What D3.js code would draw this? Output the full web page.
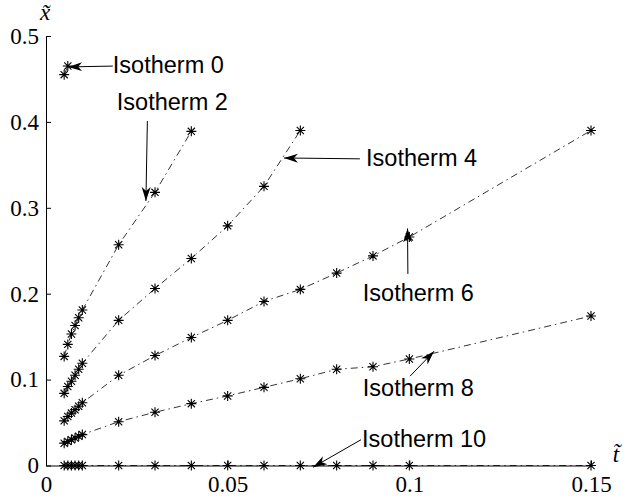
<!DOCTYPE html>
<html>
<head>
<meta charset="utf-8">
<script src="https://cdn.jsdelivr.net/npm/d3@7"></script>
<style>
  body { margin: 0; background: #fff; }
  svg { display: block; }
</style>
</head>
<body>
<div id="chart"></div>
<script>
// sample times shared by every isotherm
const times = [0.005, 0.006, 0.007, 0.008, 0.009, 0.01, 0.02, 0.03, 0.04, 0.05, 0.06, 0.07, 0.08, 0.09, 0.1, 0.15];

const iso0 = [0.455, 0.465];
const iso2 = [0.127, 0.141, 0.153, 0.163, 0.172, 0.181, 0.257, 0.318, 0.389];
const iso4 = [0.084, 0.092, 0.098, 0.105, 0.112, 0.119, 0.169, 0.206, 0.241, 0.279, 0.325, 0.390];
const iso6 = [0.052, 0.057, 0.061, 0.065, 0.069, 0.073, 0.105, 0.128, 0.149, 0.169, 0.191, 0.205, 0.224, 0.244, 0.266, 0.390];
const iso8 = [0.026, 0.028, 0.030, 0.032, 0.034, 0.036, 0.051, 0.062, 0.072, 0.081, 0.091, 0.101, 0.112, 0.115, 0.124, 0.174];
const iso10 = [0, 0, 0, 0, 0, 0, 0, 0, 0, 0, 0, 0, 0, 0, 0, 0];

const xTicks = [0, 0.05, 0.1, 0.15];
const yTicks = [0, 0.1, 0.2, 0.3, 0.4, 0.5];

// annotation text position and arrow tail/tip, in data units
const labels = [
  { text: "Isotherm 0",  tx: 0.0184, ty: 0.466, from: [0.0184, 0.465], to: [0.0061, 0.464] },
  { text: "Isotherm 2",  tx: 0.0195, ty: 0.423, from: [0.0279, 0.401], to: [0.0275, 0.308] },
  { text: "Isotherm 4",  tx: 0.0881, ty: 0.358, from: [0.0864, 0.357], to: [0.0655, 0.358] },
  { text: "Isotherm 6",  tx: 0.0872, ty: 0.201, from: [0.0996, 0.223], to: [0.0995, 0.276] },
  { text: "Isotherm 8",  tx: 0.0872, ty: 0.090, from: [0.1002, 0.104], to: [0.1068, 0.133] },
  { text: "Isotherm 10", tx: 0.0870, ty: 0.031, from: [0.0867, 0.030], to: [0.0735, -0.002] }
];

const width = 628;
const height = 501;

const x = d3.scaleLinear().domain([0, 0.15]).range([46, 591]);
const y = d3.scaleLinear().domain([0, 0.5]).range([465.5, 36]);

const svg = d3.select("#chart")
  .append("svg")
  .attr("width", width)
  .attr("height", height);

svg.append("defs").append("marker")
  .attr("id", "head")
  .attr("viewBox", "0 -5 14 10")
  .attr("refX", 14)
  .attr("refY", 0)
  .attr("markerUnits", "userSpaceOnUse")
  .attr("markerWidth", 14)
  .attr("markerHeight", 10)
  .attr("orient", "auto")
  .append("path")
  .attr("d", "M0,-4.5L14,0L0,4.5L4,0Z")
  .attr("fill", "#000");

const serif = "Liberation Serif, DejaVu Serif, serif";
const sans = "Liberation Sans, Arial, sans-serif";

// axes (inward ticks, no box)
const xAxis = svg.append("g")
  .attr("transform", `translate(0,${y(0)})`)
  .call(d3.axisBottom(x).tickValues(xTicks).tickFormat(d => String(d))
    .tickSizeInner(-5).tickSizeOuter(0).tickPadding(10));

const yAxis = svg.append("g")
  .attr("transform", `translate(${x(0)},0)`)
  .call(d3.axisLeft(y).tickValues(yTicks).tickFormat(d => String(d))
    .tickSizeInner(-5).tickSizeOuter(0).tickPadding(7));

[xAxis, yAxis].forEach(g => {
  g.attr("font-family", serif).attr("font-size", 23);
  g.selectAll("text").attr("fill", "#000");
  g.selectAll("line, path").attr("stroke", "#000").attr("stroke-width", 1);
});

svg.append("text")
  .attr("x", 45).attr("y", 20)
  .attr("text-anchor", "middle")
  .attr("font-family", serif).attr("font-style", "italic").attr("font-size", 23)
  .text("x\u0303");

svg.append("text")
  .attr("x", 616).attr("y", 462)
  .attr("text-anchor", "middle")
  .attr("font-family", serif).attr("font-style", "italic").attr("font-size", 23)
  .text("t\u0303");

// series
const series = [iso0, iso2, iso4, iso6, iso8, iso10].map(vals =>
  vals.map((v, i) => [times[i], v]));

const line = d3.line().x(d => x(d[0])).y(d => y(d[1]));

svg.append("g")
  .selectAll("path")
  .data(series)
  .enter()
  .append("path")
  .attr("d", line)
  .attr("fill", "none")
  .attr("stroke", "#000")
  .attr("stroke-width", 0.8)
  .attr("stroke-dasharray", "7,4,1.5,4");

const r = 5, a = 3.6;
const star = `M0,${-r}L0,${r}M${-r},0L${r},0M${-a},${-a}L${a},${a}M${-a},${a}L${a},${-a}`;

svg.append("g")
  .selectAll("path")
  .data(series.flat())
  .enter()
  .append("path")
  .attr("transform", d => `translate(${x(d[0])},${y(d[1])})`)
  .attr("d", star)
  .attr("stroke", "#000")
  .attr("stroke-width", 1.1)
  .attr("fill", "none");

// annotations
const ann = svg.append("g");
labels.forEach(l => {
  ann.append("line")
    .attr("x1", x(l.from[0])).attr("y1", y(l.from[1]))
    .attr("x2", x(l.to[0])).attr("y2", y(l.to[1]))
    .attr("stroke", "#000")
    .attr("stroke-width", 1)
    .attr("marker-end", "url(#head)");
  ann.append("text")
    .attr("x", x(l.tx)).attr("y", y(l.ty))
    .attr("dy", "0.35em")
    .attr("font-family", sans).attr("font-size", 23.5)
    .attr("fill", "#000")
    .text(l.text);
});
</script>
</body>
</html>
